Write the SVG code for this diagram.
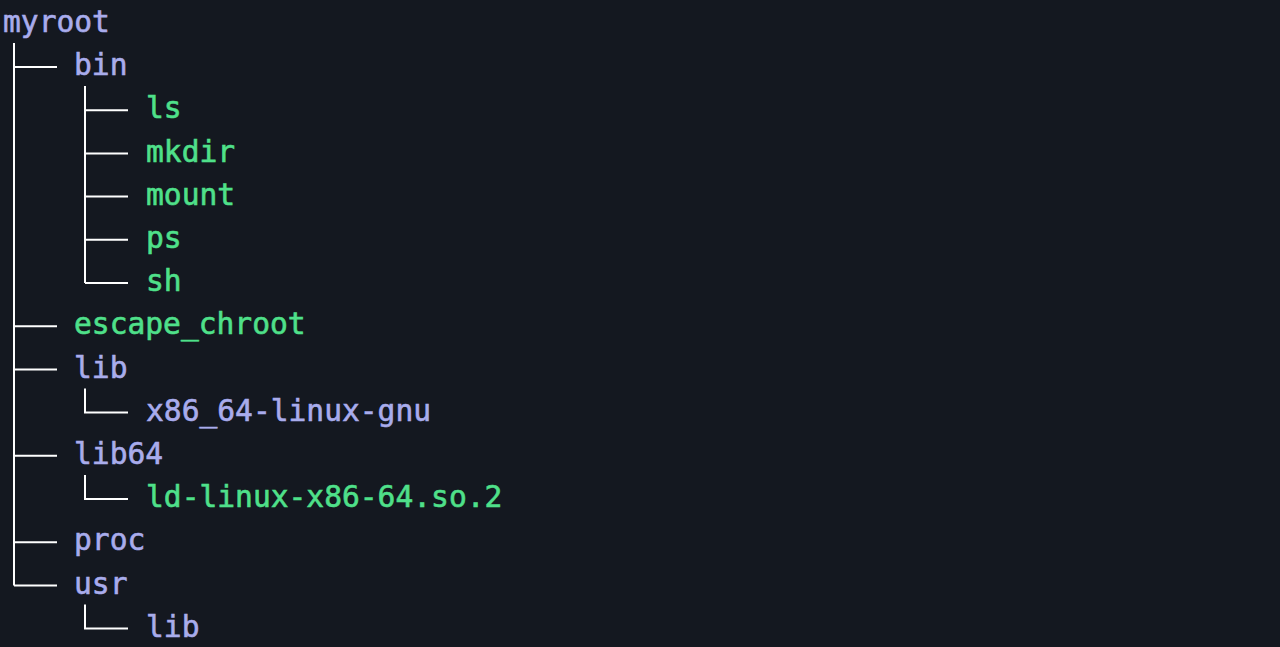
<svg xmlns="http://www.w3.org/2000/svg" width="1280" height="647" viewBox="0 0 1280 647">
<style>
text{font-family:"DejaVu Sans Mono","Liberation Mono",monospace;font-size:29.6px;stroke-width:0.6px}
.dir{fill:#a9acec;stroke:#a9acec}
.exe{fill:#4fe08a;stroke:#4fe08a}
.ln{stroke:#ffffff;stroke-width:2;fill:none}
</style>
<rect width="1280" height="647" fill="#141820"/>
<g id="connectors">
<path class="ln" d="M14 43V585.4M14 67H57M14 326.2H57M14 369.4H57M14 455.8H57M14 542.2H57M14 585.4H57"/>
<path class="ln" d="M85 86V283M85 110.2H128M85 153.4H128M85 196.6H128M85 239.8H128M85 283H128"/>
<path class="ln" d="M85 388.6V412.6H128"/>
<path class="ln" d="M85 475V499H128"/>
<path class="ln" d="M85 604.6V628.6H128"/>
</g>
<g id="myroot"><text class="dir" x="3" y="32">myroot</text></g>
<g id="bin"><text class="dir" x="74" y="75.2">bin</text></g>
<g id="ls"><text class="exe" x="146" y="118.4">ls</text></g>
<g id="mkdir"><text class="exe" x="146" y="161.6">mkdir</text></g>
<g id="mount"><text class="exe" x="146" y="204.8">mount</text></g>
<g id="ps"><text class="exe" x="146" y="248">ps</text></g>
<g id="sh"><text class="exe" x="146" y="291.2">sh</text></g>
<g id="escape_chroot"><text class="exe" x="74" y="334.4">escape_chroot</text></g>
<g id="lib"><text class="dir" x="74" y="377.6">lib</text></g>
<g id="x86_64-linux-gnu"><text class="dir" x="146" y="420.8">x86_64-linux-gnu</text></g>
<g id="lib64"><text class="dir" x="74" y="464">lib64</text></g>
<g id="ld-linux"><text class="exe" x="146" y="507.2">ld-linux-x86-64.so.2</text></g>
<g id="proc"><text class="dir" x="74" y="550.4">proc</text></g>
<g id="usr"><text class="dir" x="74" y="593.6">usr</text></g>
<g id="usr-lib"><text class="dir" x="146" y="636.8">lib</text></g>
</svg>
